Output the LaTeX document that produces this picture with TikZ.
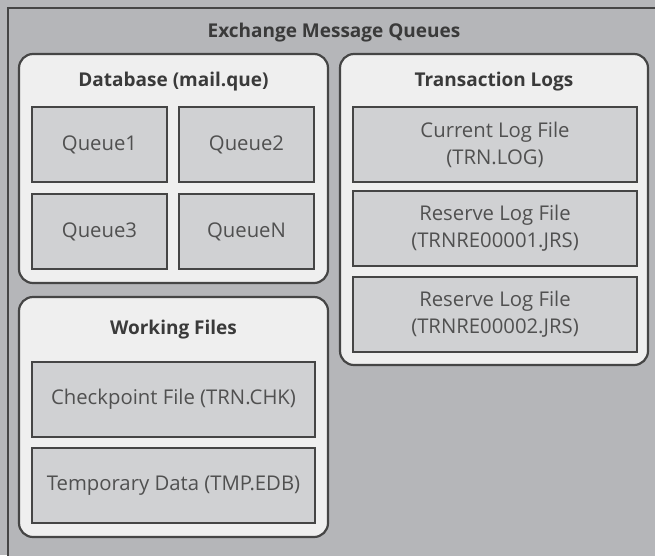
\documentclass[tikz,border=0pt]{standalone}
\usepackage{fontspec}
\setmainfont{Open Sans}
\definecolor{outerfill}{HTML}{B5B6B9}
\definecolor{contfill}{HTML}{EFEFEF}
\definecolor{boxfill}{HTML}{D0D1D3}
\definecolor{edge}{HTML}{454545}
\definecolor{txt}{HTML}{505050}
\definecolor{ttl}{HTML}{3A3A3A}
\tikzset{
  container/.style={draw=edge, fill=contfill, line width=2.2pt, rounded corners=14pt},
  filebox/.style={draw=edge, fill=boxfill, line width=2.2pt, text=txt, align=center,
    font=\fontsize{20.3}{27}\selectfont, inner sep=0pt},
  title/.style={text=ttl, font=\fontsize{19}{22}\selectfont\bfseries, inner sep=0pt}
}
\begin{document}
\begin{tikzpicture}[x=1pt,y=-1pt]
\useasboundingbox (0,0) rectangle (655,555);
\clip (0,0) rectangle (655,555);
\fill[outerfill] (0,0) rectangle (655,555);
\node[draw=edge, fill=outerfill, line width=2.2pt, anchor=north west, minimum width=700pt, minimum height=600pt] (outer) at (7,7) {};
\node[title] (outertitle) at (334,33) {Exchange Message Queues};
% Database
\node[container, minimum width=309pt, minimum height=229pt] (db) at (173.5,168.5) {};
\node[title] (dbtitle) at (173.5,81.5) {Database (mail.que)};
\node[filebox, minimum width=135pt, minimum height=75pt] (q1) at (99.5,144.5) {Queue1};
\node[filebox, minimum width=135pt, minimum height=75pt] (q2) at (246.5,144.5) {Queue2};
\node[filebox, minimum width=135pt, minimum height=75pt] (q3) at (99.5,231.5) {Queue3};
\node[filebox, minimum width=135pt, minimum height=75pt] (qn) at (246.5,231.5) {QueueN};
% Working files
\node[container, minimum width=309pt, minimum height=240pt] (wf) at (173.5,417) {};
\node[title] (wftitle) at (173.5,329.5) {Working Files};
\node[filebox, minimum width=283pt, minimum height=75pt] (chk) at (173.5,399.5) {Checkpoint File (TRN.CHK)};
\node[filebox, minimum width=283pt, minimum height=75pt] (tmp) at (173.5,485.5) {Temporary Data (TMP.EDB)};
% Transaction logs
\node[container, minimum width=308pt, minimum height=311pt] (tl) at (494,209.5) {};
\node[title] (tltitle) at (494,81.5) {Transaction Logs};
\node[filebox, minimum width=284pt, minimum height=75pt] (cur) at (495,144.5) {Current Log File\\(TRN.LOG)};
\node[filebox, minimum width=284pt, minimum height=75pt] (r1) at (495,228.5) {Reserve Log File\\(TRNRE00001.JRS)};
\node[filebox, minimum width=284pt, minimum height=75pt] (r2) at (495,314.5) {Reserve Log File\\(TRNRE00002.JRS)};
\end{tikzpicture}
\end{document}
